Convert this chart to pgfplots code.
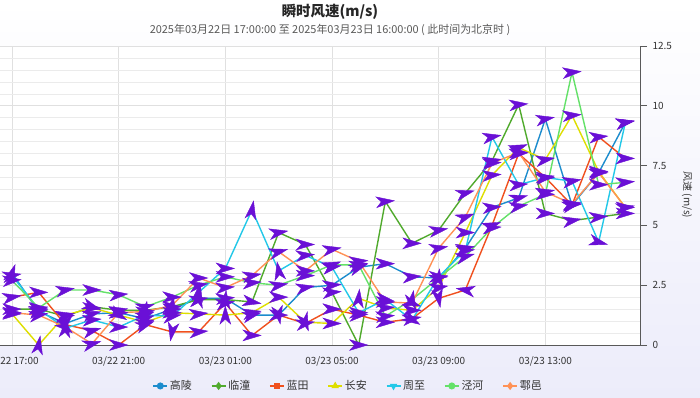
\documentclass[border=0pt]{standalone}
\usepackage{fontspec}
\setmainfont{Noto Sans CJK SC}
\usepackage{pgfplots}
\pgfplotsset{compat=1.18}
\usepackage{pgfplotstable}

\definecolor{cgl}{RGB}{28,140,205}
\definecolor{cln}{RGB}{80,170,45}
\definecolor{clt}{RGB}{240,80,30}
\definecolor{cca}{RGB}{222,222,0}
\definecolor{czz}{RGB}{35,200,232}
\definecolor{cjh}{RGB}{100,225,105}
\definecolor{chy}{RGB}{255,145,85}
\definecolor{arrowc}{RGB}{106,16,214}
\definecolor{lav}{RGB}{236,236,250}

\pgfdeclareplotmark{wind}{%
  \pgfpathmoveto{\pgfqpoint{\pgfplotmarksize}{0pt}}%
  \pgfpathlineto{\pgfqpoint{-\pgfplotmarksize}{0.6\pgfplotmarksize}}%
  \pgfpathlineto{\pgfqpoint{-0.45\pgfplotmarksize}{0pt}}%
  \pgfpathlineto{\pgfqpoint{-\pgfplotmarksize}{-0.6\pgfplotmarksize}}%
  \pgfpathclose
  \pgfusepathqfillstroke}

% columns: hour index (0 = 03/22 17:00), wind speed, arrow direction (deg)
\pgfplotstableread{
h v a
0 3.0 70
1 1.4 10
2 0.9 -100
3 1.3 15
4 1.35 0
5 1.1 20
6 1.5 0
7 1.95 80
8 1.95 5
9 1.25 15
10 1.25 0
11 2.4 10
12 2.5 5
13 3.25 20
14 3.4 0
15 2.85 5
16 2.8 15
17 4.05 10
18 5.75 5
19 6.15 15
20 9.45 10
21 5.85 5
22 7.2 0
23 9.3 10
}\tgl
\pgfplotstableread{
h v a
0 1.5 0
1 1.5 15
2 1.2 5
3 1.6 -20
4 1.45 10
5 1.45 80
6 1.6 0
7 1.9 10
8 1.9 85
9 1.8 -10
10 4.7 10
11 4.2 0
12 2.2 5
13 0 0
14 6.0 5
15 4.25 0
16 4.8 10
17 6.35 15
18 7.7 10
19 10.05 5
20 5.5 0
21 5.2 10
22 5.35 5
23 5.5 0
}\tln
\pgfplotstableread{
h v a
0 2.0 10
1 2.2 0
2 0.85 -60
3 0.6 15
4 0 0
5 0.85 20
6 0.55 -100
7 0.55 5
8 1.75 10
9 0.4 0
10 1.25 -80
11 0.9 10
12 1.5 0
13 1.25 5
14 0.95 0
15 1.1 10
16 1.95 -80
17 2.3 170
18 5.0 20
19 8.0 5
20 7.0 10
21 5.85 15
22 8.7 5
23 7.8 0
}\tlt
\pgfplotstableread{
h v a
0 1.3 0
1 0 80
2 1.25 10
3 1.55 0
4 1.25 -30
5 0.95 15
6 1.35 0
7 1.3 5
8 1.25 90
9 1.35 10
10 2.0 0
11 0.95 -70
12 0.9 0
13 1.95 85
14 1.55 5
15 1.45 0
16 2.4 10
17 4.7 0
18 7.1 5
19 8.25 20
20 7.75 10
21 9.6 5
22 7.25 0
23 5.75 10
}\tca
\pgfplotstableread{
h v a
0 2.9 10
1 1.5 0
2 0.7 85
3 1.05 5
4 0.75 0
5 1.25 20
6 1.2 10
7 2.2 80
8 3.2 0
9 5.65 80
10 3.1 100
11 3.75 5
12 3.25 10
13 1.35 0
14 1.9 -10
15 1.05 -30
16 2.85 0
17 3.95 5
18 8.7 10
19 6.7 5
20 7.0 0
21 6.85 10
22 4.3 -15
23 9.3 10
}\tzz
\pgfplotstableread{
h v a
0 2.7 5
1 1.55 0
2 2.3 10
3 2.3 0
4 2.1 5
5 1.6 15
6 2.0 0
7 2.5 10
8 2.85 0
9 2.6 5
10 2.5 10
11 2.9 0
12 3.35 20
13 3.35 10
14 1.2 5
15 1.9 80
16 2.8 85
17 3.7 15
18 4.9 5
19 5.8 10
20 6.3 0
21 11.4 5
22 6.7 0
23 6.8 5
}\tjh
\pgfplotstableread{
h v a
0 1.35 0
1 1.25 10
2 0.75 -40
3 0.05 15
4 1.35 0
5 1.4 5
6 1.65 80
7 2.8 0
8 2.4 5
9 2.9 10
10 3.9 15
11 3.1 0
12 4.0 10
13 3.5 5
14 1.8 0
15 1.75 -20
16 4.05 10
17 5.35 20
18 7.6 5
19 8.05 0
20 6.4 10
21 5.9 5
22 7.2 10
23 5.75 0
}\thy

\pgfplotsset{
  windarrows/.style={only marks, mark=wind, mark size=9bp, forget plot,
    scatter, point meta=explicit symbolic,
    mark options={fill=arrowc, draw=arrowc, line width=0.4bp},
    scatter/@pre marker code/.code={\scope[rotate=\pgfplotspointmeta, fill=arrowc, draw=arrowc]},
    scatter/@post marker code/.code={\endscope}},
  serline/.style={line width=1.4bp, no marks, forget plot, #1},
}

\begin{document}
\begin{tikzpicture}
\path[use as bounding box] (0,0) rectangle (700bp,398bp);
\shade[top color=white, bottom color=lav, middle color=lav!50!white] (0,0) rectangle (700bp,398bp);
\begin{axis}[
  at={(0bp,53bp)}, anchor=south west, scale only axis,
  width=640bp, height=299bp,
  xmin=-0.45, xmax=23.55, ymin=0, ymax=12.5,
  axis x line*=bottom, axis y line*=right,
  axis line style={draw=black!65, line width=0.8bp},
  xtick={0,4,8,12,16,20},
  xticklabels={03/22 17:00,03/22 21:00,03/23 01:00,03/23 05:00,03/23 09:00,03/23 13:00},
  ytick={0,2.5,5,7.5,10,12.5},
  minor y tick num=4,
  ymajorgrids, yminorgrids, xmajorgrids,
  major grid style={draw=black!12, line width=0.6bp},
  minor grid style={draw=black!8, line width=0.6bp},
  tick align=outside, major tick length=7bp, minor tick length=0pt,
  xtick style={draw=none},
  ytick style={draw=black!65, line width=0.8bp},
  tick label style={font=\fontsize{10}{12}\selectfont, text=black!80},
  /pgf/number format/assume math mode=true,
  yticklabel style={xshift=2bp},
  xticklabel style={yshift=-1bp},
  axis background/.style={fill=white},
  legend columns=-1,
  legend style={at={(0.544,-0.137)}, anchor=center, draw=none, fill=none,
    font=\fontsize{11}{13}\selectfont, text=black!80,
    /tikz/every even column/.append style={column sep=17bp}},
  legend image code/.code={\draw[mark repeat=2,mark phase=2,#1] plot coordinates {(0bp,0bp) (7bp,0bp) (14bp,0bp)};},
]
\addplot[serline=cgl] table[x=h,y=v] {\tgl};
\addplot[serline=cln] table[x=h,y=v] {\tln};
\addplot[serline=clt] table[x=h,y=v] {\tlt};
\addplot[serline=cca] table[x=h,y=v] {\tca};
\addplot[serline=czz] table[x=h,y=v] {\tzz};
\addplot[serline=cjh] table[x=h,y=v] {\tjh};
\addplot[serline=chy] table[x=h,y=v] {\thy};

\addplot[windarrows] table[x=h,y=v,meta=a] {\tgl};
\addplot[windarrows] table[x=h,y=v,meta=a] {\tln};
\addplot[windarrows] table[x=h,y=v,meta=a] {\tlt};
\addplot[windarrows] table[x=h,y=v,meta=a] {\tca};
\addplot[windarrows] table[x=h,y=v,meta=a] {\tzz};
\addplot[windarrows] table[x=h,y=v,meta=a] {\tjh};
\addplot[windarrows] table[x=h,y=v,meta=a] {\thy};

\addlegendimage{cgl, line width=1.4bp, mark=*, mark size=2.8bp}
\addlegendentry{高陵}
\addlegendimage{cln, line width=1.4bp, mark=diamond*, mark size=3bp}
\addlegendentry{临潼}
\addlegendimage{clt, line width=1.4bp, mark=square*, mark size=2.6bp}
\addlegendentry{蓝田}
\addlegendimage{cca, line width=1.4bp, mark=triangle*, mark size=3bp}
\addlegendentry{长安}
\addlegendimage{czz, line width=1.4bp, mark=triangle*, mark size=3bp, mark options={rotate=180}}
\addlegendentry{周至}
\addlegendimage{cjh, line width=1.4bp, mark=*, mark size=2.8bp}
\addlegendentry{泾河}
\addlegendimage{chy, line width=1.4bp, mark=diamond*, mark size=3bp}
\addlegendentry{鄠邑}
\end{axis}
\node[font=\fontsize{14.5}{17}\selectfont\bfseries, text=black!85] at (330bp,386bp) {瞬时风速(m/s)};
\node[font=\fontsize{11}{13}\selectfont, text=black!65] at (330bp,368.5bp) {2025年03月22日 17:00:00 至 2025年03月23日 16:00:00 ( 此时间为北京时 )};
\node[rotate=-90, font=\fontsize{10}{12}\selectfont, text=black!80] at (687bp,203bp) {风速 (m/s)};
\end{tikzpicture}
\end{document}
